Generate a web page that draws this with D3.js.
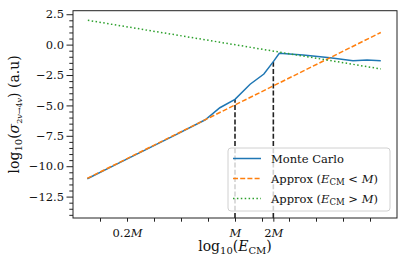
<!DOCTYPE html>
<html>
<head>
<meta charset="utf-8">
<script src="https://cdn.jsdelivr.net/npm/d3@7"></script>
<style>
  body { margin: 0; background: #fff; }
  svg { display: block; font-family: "DejaVu Serif", serif; }
</style>
</head>
<body>
<div id="chart"></div>
<script>
// Monte Carlo curve (x in log-energy units, y = log10 cross section)
const mcX = [0.53, 1.6, 2.7, 3.8, 4.9, 5.44, 6.0, 6.56, 7.07, 7.42, 7.64, 8.52, 9.52, 10.37, 10.89, 11.4];
const mcY = [-11.03, -9.85, -8.63, -7.42, -6.18, -5.19, -4.5, -3.26, -2.42, -1.4, -0.71, -0.85, -1.08, -1.32, -1.27, -1.32];
// low energy approximation
const lowX = [0.53, 11.4];
const lowY = [-11.0, 1.0];
// high energy approximation
const highX = [0.55, 11.4];
const highY = [2.0, -2.0];
// markers at M and 2M
const markX = [6.0, 7.42];
const markY = [-4.5, -1.4];

const xTicks = [1, 2, 3, 4, 5, 6, 7, 7.42, 8, 9, 10, 11];
const xTickLabels = { 2: "0.2", 6: "", 7.42: "2" }; // followed by italic M
const yTicks = [2.5, 0, -2.5, -5, -7.5, -10, -12.5];

const W = 407, H = 271;
const margin = { top: 10.7, right: 10, bottom: 53, left: 73 };

const svg = d3.select("#chart").append("svg").attr("width", W).attr("height", H);

const x = d3.scaleLinear().domain([0, 12]).range([margin.left, W - margin.right]);
const y = d3.scaleLinear().domain([-14.26, 2.79]).range([H - margin.bottom, margin.top]);

const colors = { mc: "#1f77b4", low: "#ff7f0e", high: "#2ca02c" };

const line = d3.line().x((d) => x(d[0])).y((d) => y(d[1]));

// dashed vertical markers
svg.append("g")
  .selectAll("line")
  .data(markX.map((v, i) => [v, markY[i]]))
  .join("line")
  .attr("x1", (d) => x(d[0]))
  .attr("x2", (d) => x(d[0]))
  .attr("y1", y(-14.26))
  .attr("y2", (d) => y(d[1]))
  .attr("stroke", "#222")
  .attr("stroke-width", 1.6)
  .attr("stroke-dasharray", "5,2.2");

svg.append("path")
  .datum(mcX.map((v, i) => [v, mcY[i]]))
  .attr("d", line)
  .attr("fill", "none")
  .attr("stroke", colors.mc)
  .attr("stroke-width", 1.5);

svg.append("path")
  .datum(lowX.map((v, i) => [v, lowY[i]]))
  .attr("d", line)
  .attr("fill", "none")
  .attr("stroke", colors.low)
  .attr("stroke-width", 1.5)
  .attr("stroke-dasharray", "5,2.2");

svg.append("path")
  .datum(highX.map((v, i) => [v, highY[i]]))
  .attr("d", line)
  .attr("fill", "none")
  .attr("stroke", colors.high)
  .attr("stroke-width", 1.5)
  .attr("stroke-dasharray", "1.5,2.4");

// frame
svg.append("rect")
  .attr("x", x(0))
  .attr("y", y(2.79))
  .attr("width", x(12) - x(0))
  .attr("height", y(-14.26) - y(2.79))
  .attr("fill", "none")
  .attr("stroke", "#222")
  .attr("stroke-width", 1);

// y axis: minor then major
const minor = d3.range(-14, 2.6, 0.5).filter((v) => Math.abs(v / 2.5 - Math.round(v / 2.5)) > 1e-6);
svg.append("g")
  .attr("transform", `translate(${x(0)},0)`)
  .call(d3.axisLeft(y).tickValues(minor).tickSize(3.7).tickFormat(""))
  .call((g) => g.select(".domain").remove())
  .call((g) => g.selectAll("line").attr("stroke", "#222"));

svg.append("g")
  .attr("transform", `translate(${x(0)},0)`)
  .call(d3.axisLeft(y).tickValues(yTicks).tickSize(6.5).tickPadding(2.5)
    .tickFormat((d) => d3.format(".1f")(d).replace("-", "\u2212")))
  .call((g) => g.select(".domain").remove())
  .call((g) => g.selectAll("line").attr("stroke", "#222"))
  .call((g) => g.selectAll("text").attr("fill", "#111").style("font-size", "11.5px")
    .style("font-family", "DejaVu Serif, serif"));

// x axis
const xAxis = svg.append("g")
  .attr("transform", `translate(0,${y(-14.26)})`)
  .call(d3.axisBottom(x).tickValues(xTicks).tickSize(3.7).tickPadding(4).tickFormat(""))
  .call((g) => g.select(".domain").remove())
  .call((g) => g.selectAll("line").attr("stroke", "#222"));

xAxis.selectAll(".tick")
  .filter((d) => xTickLabels[d] !== undefined)
  .append("text")
  .attr("y", 18.5)
  .attr("text-anchor", "middle")
  .attr("fill", "#111")
  .style("font-size", "11.5px")
  .style("font-family", "DejaVu Serif, serif")
  .each(function (d) {
    const t = d3.select(this);
    if (xTickLabels[d]) t.append("tspan").text(xTickLabels[d]);
    t.append("tspan").attr("font-style", "italic").text("M");
  });

// axis labels
const xl = svg.append("text")
  .attr("x", x(6))
  .attr("y", 251)
  .attr("text-anchor", "middle")
  .attr("fill", "#111")
  .style("font-size", "14px");
xl.append("tspan").text("log");
xl.append("tspan").attr("font-size", "10px").attr("dy", 3).text("10");
xl.append("tspan").attr("dy", -3).text("(");
xl.append("tspan").attr("font-style", "italic").text("E");
xl.append("tspan").attr("font-size", "10px").attr("dy", 3).text("CM");
xl.append("tspan").attr("dy", -3).text(")");

const yl = svg.append("text")
  .attr("transform", `translate(19,${(y(2.79) + y(-14.26)) / 2}) rotate(-90)`)
  .attr("text-anchor", "middle")
  .attr("fill", "#111")
  .style("font-size", "14px");
yl.append("tspan").text("log");
yl.append("tspan").attr("font-size", "10px").attr("dy", 3).text("10");
yl.append("tspan").attr("dy", -3).text("(");
yl.append("tspan").attr("font-style", "italic").text("\u03c3");
yl.append("tspan").attr("font-size", "8px").attr("dy", 3).text("2");
yl.append("tspan").attr("font-size", "8px").attr("font-style", "italic").text("v");
yl.append("tspan").attr("font-size", "8px").text("\u2192");
yl.append("tspan").attr("font-size", "8px").text("4");
yl.append("tspan").attr("font-size", "8px").attr("font-style", "italic").text("v");
yl.append("tspan").attr("dy", -3).text(") (a.u)");

// legend
const legendItems = [
  { key: "mc", dash: null, parts: [["Monte Carlo", ""]] },
  { key: "low", dash: "5,2.2", parts: [["Approx (", ""], ["E", "i"], ["CM", "s"], [" < ", ""], ["M", "i"], [")", ""]] },
  { key: "high", dash: "1.5,2.4", parts: [["Approx (", ""], ["E", "i"], ["CM", "s"], [" > ", ""], ["M", "i"], [")", ""]] },
];
const lg = svg.append("g").attr("transform", "translate(228,148)");
lg.append("rect")
  .attr("width", 162)
  .attr("height", 63)
  .attr("rx", 3)
  .attr("fill", "#fff")
  .attr("fill-opacity", 0.8)
  .attr("stroke", "#d0d0d0")
  .attr("stroke-width", 1);
const rows = lg.selectAll("g.row")
  .data(legendItems)
  .join("g")
  .attr("class", "row")
  .attr("transform", (d, i) => `translate(0,${10.5 + i * 20})`);
rows.append("line")
  .attr("x1", 5).attr("x2", 33)
  .attr("stroke", (d) => colors[d.key])
  .attr("stroke-width", 1.5)
  .attr("stroke-dasharray", (d) => d.dash);
rows.append("text")
  .attr("x", 43)
  .attr("y", 4)
  .attr("fill", "#111")
  .style("font-size", "11.5px")
  .each(function (d) {
    const t = d3.select(this);
    let sub = false;
    d.parts.forEach(([s, f]) => {
      const ts = t.append("tspan").text(s);
      if (f === "i") ts.attr("font-style", "italic");
      if (f === "s") { ts.attr("font-size", "8.5px").attr("dy", 2.5); sub = true; }
      else if (sub) { ts.attr("dy", -2.5); sub = false; }
    });
  });
</script>
</body>
</html>
